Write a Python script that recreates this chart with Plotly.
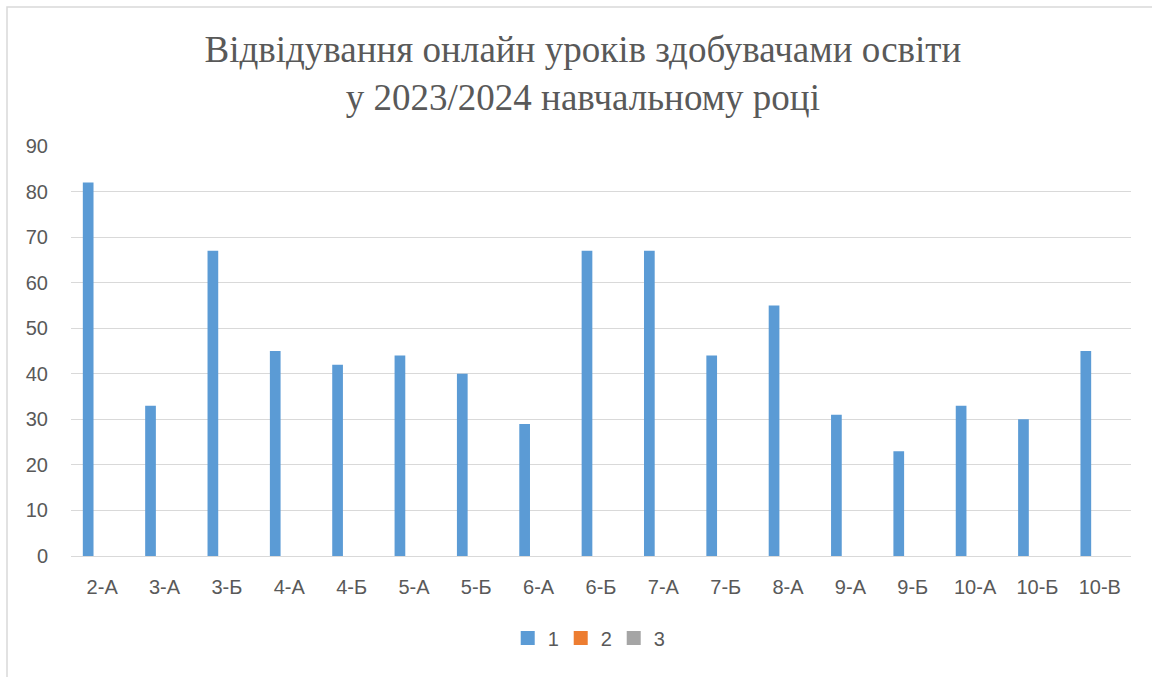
import plotly.graph_objects as go

categories = ["2-А", "3-А", "3-Б", "4-А", "4-Б", "5-А", "5-Б", "6-А", "6-Б",
              "7-А", "7-Б", "8-А", "9-А", "9-Б", "10-А", "10-Б", "10-В"]
series1 = [82, 33, 67, 45, 42, 44, 40, 29, 67, 67, 44, 55, 31, 23, 33, 30, 45]
series2 = [0] * 17
series3 = [0] * 17
series_names = ["1", "2", "3"]
colors = ["#5B9BD5", "#ED7D31", "#A5A5A5"]

fig = go.Figure()
for name, vals, c in zip(series_names, [series1, series2, series3], colors):
    fig.add_trace(go.Bar(x=categories, y=vals, name=name, showlegend=False,
                         marker=dict(color=c, line=dict(width=0))))
# legend entries with square swatches
for name, c in zip(series_names, colors):
    fig.add_trace(go.Scatter(x=[None], y=[None], mode="markers", name=name,
                             marker=dict(symbol="square", size=14, color=c)))

W, H = 1152, 677
l, r, t, b = 71, 21, 146, 121
pw, ph = W - l - r, H - t - b

def px_x(p):
    return (p - l) / pw

def px_y(p):
    return (H - b - p) / ph

fig.update_layout(
    width=W, height=H,
    margin=dict(l=l, r=r, t=t, b=b),
    paper_bgcolor="white", plot_bgcolor="white",
    barmode="group", bargap=0.326, bargroupgap=0.236,
    title=dict(
        text="Відвідування онлайн уроків здобувачами освіти<br>у 2023/2024 навчальному році",
        x=0.506, xanchor="center", y=1 - 62 / H, yanchor="middle",
        font=dict(family="Liberation Serif, Times New Roman, serif", size=37, color="#595959"),
    ),
    font=dict(family="Liberation Sans, Arial, sans-serif", size=20, color="#595959"),
    showlegend=True,
    legend=dict(orientation="h", x=0.487, xanchor="center", y=px_y(638), yanchor="middle",
                font=dict(size=20, color="#595959"), itemwidth=30, traceorder="normal",
                entrywidth=8, entrywidthmode="pixels"),
    xaxis=dict(showgrid=False, showline=False, ticks="", tickfont=dict(size=20, color="#595959"),
               ticklabelstandoff=17),
    yaxis=dict(range=[0, 90], dtick=10, showgrid=True, gridcolor="#D9D9D9", gridwidth=1,
               zeroline=True, zerolinecolor="#D9D9D9", zerolinewidth=1,
               showline=False, ticks="", tickfont=dict(size=20, color="#595959"),
               ticklabelstandoff=22),
    shapes=[dict(type="rect", xref="paper", yref="paper",
                 x0=px_x(7), x1=px_x(W + 20), y0=px_y(H + 20), y1=px_y(7),
                 line=dict(color="#D9D9D9", width=1.5), fillcolor="rgba(0,0,0,0)", layer="below")],
)

fig.write_html("out.html", config={"displayModeBar": False},
               post_script="document.body.style.margin='0';")
